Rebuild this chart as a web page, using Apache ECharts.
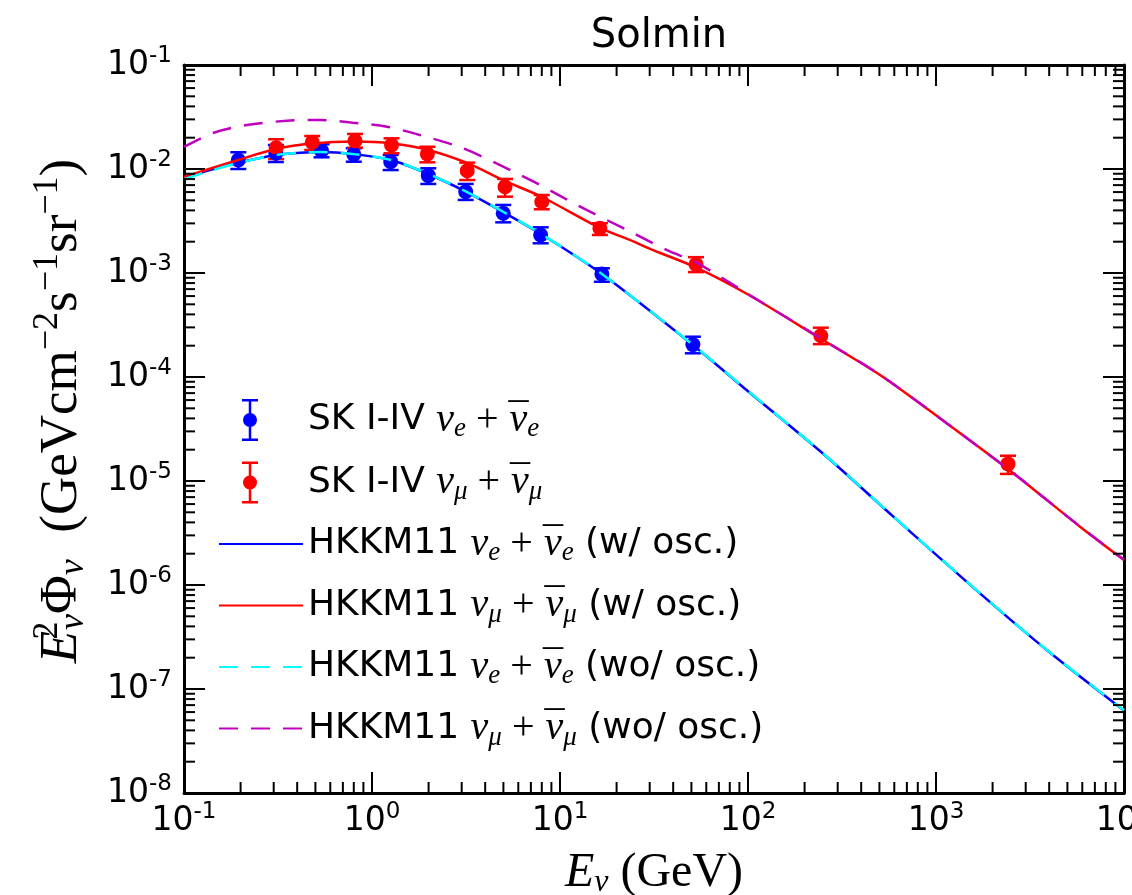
<!DOCTYPE html>
<html>
<head>
<meta charset="utf-8">
<title>Solmin</title>
<script src="https://cdn.jsdelivr.net/npm/echarts@6.0.0/dist/echarts.min.js"></script>
<style>
  html, body { margin: 0; padding: 0; background: #fff; }
  #chart-content { width: 1132px; height: 895px; }
</style>
</head>
<body>
<div id="chart-content"></div>
<script>
// SK I-IV data points (GeV, E^2 Phi)
var skE_x  = [0.1945, 0.308, 0.539, 0.80, 1.257, 1.993, 3.15, 4.99, 7.89, 16.7, 50.9];
var skE_y  = [0.01222, 0.01416, 0.01499, 0.01384, 0.01175, 0.00863, 0.00605, 0.00375, 0.00232, 0.000977, 0.000205];
var skE_lo = [0.0100, 0.01167, 0.01296, 0.01175, 0.00977, 0.00718, 0.00504, 0.00307, 0.00193, 0.000824, 0.000169];
var skE_hi = [0.01449, 0.01702, 0.01729, 0.01581, 0.01365, 0.01016, 0.00718, 0.00451, 0.00275, 0.00111, 0.000244];

var skMu_x  = [0.309, 0.481, 0.812, 1.27, 1.97, 3.21, 5.10, 8.0, 16.3, 52.9, 244, 2415];
var skMu_y  = [0.01603, 0.01807, 0.01871, 0.01702, 0.01393, 0.00963, 0.00676, 0.00485, 0.00269, 0.00121, 0.000249, 0.0000146];
var skMu_lo = [0.01247, 0.01524, 0.01603, 0.01416, 0.01159, 0.00783, 0.00542, 0.0041, 0.00232, 0.00102, 0.000207, 0.0000117];
var skMu_hi = [0.01931, 0.02075, 0.02173, 0.01973, 0.01637, 0.01151, 0.00802, 0.00562, 0.00301, 0.00142, 0.000298, 0.0000175];

// HKKM11 curves
var hkE_x  = [0.1, 0.1375, 0.194, 0.308, 0.414, 0.535, 0.80, 1.26, 1.99, 3.13, 4.98, 7.93, 16.7, 51.6, 100, 262, 593, 1714, 3880, 10000];
var hkE_y  = [0.00819, 0.00977, 0.0115, 0.01365, 0.0143, 0.01455, 0.0139, 0.0122, 0.00895, 0.0061, 0.00386, 0.00237, 0.000977, 0.000199, 0.000073, 0.0000171, 0.00000454, 0.00000083, 0.000000237, 0.000000062];
var hkE0_y = [0.00800, 0.00960, 0.01140, 0.0136, 0.0143, 0.01455, 0.0139, 0.0122, 0.0090, 0.00612, 0.00388, 0.00238, 0.000980, 0.000200, 0.0000735, 0.0000172, 0.00000456, 0.000000835, 0.000000238, 0.0000000625];

var hkMu_x = [0.1, 0.194, 0.308, 0.48, 0.81, 1.28, 1.99, 3.2, 5.09, 8.02, 16.3, 23.5, 31.3, 53.5, 100, 250, 504, 1140, 2576, 5835, 10000];
var hkMu_y = [0.00838, 0.01222, 0.01556, 0.01758, 0.01837, 0.01758, 0.01524, 0.01143, 0.00767, 0.00538, 0.00271, 0.00208, 0.00166, 0.00112, 0.000621, 0.000227, 0.0001045, 0.0000359, 0.0000119, 0.00000364, 0.00000174];

var hkMu0_x = [0.1, 0.1426, 0.216, 0.353, 0.528, 0.792, 1.20, 1.80, 2.94, 4.80, 7.83, 12.8, 22.7, 37.1, 53.5, 100, 250, 504, 1140, 2576, 5835, 10000];
var hkMu0_y = [0.0163, 0.0222, 0.0265, 0.0291, 0.0296, 0.0279, 0.0255, 0.0212, 0.0162, 0.0109, 0.00702, 0.00434, 0.00259, 0.00166, 0.00125, 0.000628, 0.000229, 0.0001048, 0.000036, 0.0000119, 0.00000365, 0.00000175];

// axis ranges (decades)
var xDecades = [-1, 0, 1, 2, 3, 4];
var yDecades = [-8, -7, -6, -5, -4, -3, -2, -1];

var view = {};

view.pairs = function (xs, ys) {
  return xs.map(function (x, i) { return [x, ys[i]]; });
};

view.errData = function (xs, lo, hi) {
  return xs.map(function (x, i) { return [x, lo[i], hi[i]]; });
};

// minor ticks 2..9 in every decade
view.minorTicks = function () {
  var out = [];
  for (var i = 0; i < xDecades.length - 1; i++) {
    for (var m = 2; m <= 9; m++) out.push([m * Math.pow(10, xDecades[i]), 0.1, 0]);
  }
  for (var j = 0; j < yDecades.length - 1; j++) {
    for (var k = 2; k <= 9; k++) out.push([0.1, k * Math.pow(10, yDecades[j]), 1]);
  }
  return out;
};

view.expLabel = function (v) {
  var e = Math.round(Math.log(v) / Math.LN10);
  return '{b|10}{e|' + e + '}';
};

// nu-bar : zero width macron token drawn over nu
view.legendText = {
  SKe:   '{t|SK I-IV }{m|ν}{s|e}{p| + }{o|¯}{m|ν}{s|e}',
  SKmu:  '{t|SK I-IV }{m|ν}{s|μ}{p| + }{o|¯}{m|ν}{s|μ}',
  HKe:   '{t|HKKM11 }{m|ν}{s|e}{p| + }{o|¯}{m|ν}{s|e}{t| (w/ osc.)}',
  HKmu:  '{t|HKKM11 }{m|ν}{s|μ}{p| + }{o|¯}{m|ν}{s|μ}{t| (w/ osc.)}',
  HKe0:  '{t|HKKM11 }{m|ν}{s|e}{p| + }{o|¯}{m|ν}{s|e}{t| (wo/ osc.)}',
  HKmu0: '{t|HKKM11 }{m|ν}{s|μ}{p| + }{o|¯}{m|ν}{s|μ}{t| (wo/ osc.)}'
};

var errIcon = 'path://M0,0h16v2.5h-16z M6.75,0h2.5v42h-2.5z M0,39.5h16v2.5h-16z M1,21a7,7 0 1,1 14,0a7,7 0 1,1 -14,0z M37.99,21h0.01v0.01h-0.01z';

view.loadChart = function () {
  var mychart = echarts.init(document.getElementById('chart-content'));

  var tickLabelRich = {
    b: { fontFamily: 'DejaVu Sans', fontSize: 33, color: '#000' },
    e: { fontFamily: 'DejaVu Sans', fontSize: 23, color: '#000', padding: [0, 0, 18, 0] }
  };
  var frame = { show: true, lineStyle: { color: '#000', width: 3 } };
  var majorTick = { show: true, inside: true, length: 21, lineStyle: { color: '#000', width: 2 } };
  var noSymbol = { opacity: 0 };

  function errItem(color) {
    return function (params, api) {
      var x = api.value(0);
      var top = api.coord([x, api.value(2)]);
      var bot = api.coord([x, api.value(1)]);
      var st = { stroke: color, lineWidth: 2.5 };
      return {
        type: 'group',
        children: [
          { type: 'line', shape: { x1: top[0], y1: top[1], x2: bot[0], y2: bot[1] }, style: st },
          { type: 'line', shape: { x1: top[0] - 8, y1: top[1], x2: top[0] + 8, y2: top[1] }, style: st },
          { type: 'line', shape: { x1: bot[0] - 8, y1: bot[1], x2: bot[0] + 8, y2: bot[1] }, style: st }
        ]
      };
    };
  }

  var serifI = { fontFamily: 'Liberation Serif', fontStyle: 'italic', color: '#000' };
  var serif = { fontFamily: 'Liberation Serif', color: '#000' };

  var option = {
    animation: false,
    title: {
      text: 'Solmin',
      left: 654,
      top: 12,
      textAlign: 'center',
      textStyle: { fontFamily: 'DejaVu Sans', fontSize: 40, fontWeight: 'normal', color: '#000' }
    },
    grid: { left: 184, right: 8, top: 65, bottom: 102, outerBoundsMode: 'none', containLabel: false },
    legend: {
      orient: 'vertical',
      left: 218,
      top: 399,
      padding: 0,
      itemWidth: 84,
      itemHeight: 42,
      itemGap: 19,
      selectedMode: false,
      data: [
        { name: 'SKe', icon: errIcon, itemStyle: { color: '#0000ff' } },
        { name: 'SKmu', icon: errIcon, itemStyle: { color: '#ff0000' } },
        { name: 'HKe', itemStyle: noSymbol },
        { name: 'HKmu', itemStyle: noSymbol },
        { name: 'HKe0', itemStyle: noSymbol },
        { name: 'HKmu0', itemStyle: noSymbol }
      ],
      formatter: function (name) { return view.legendText[name]; },
      textStyle: {
        color: '#000',
        rich: {
          t: { fontFamily: 'DejaVu Sans', fontSize: 36, color: '#000' },
          m: echarts.util.extend({ fontSize: 40 }, serifI),
          o: echarts.util.extend({ fontSize: 40, width: 1, padding: [0, 0, 0, 0] }, serif),
          s: echarts.util.extend({ fontSize: 27, padding: [18, 0, 0, 0] }, serifI),
          p: echarts.util.extend({ fontSize: 40 }, serif)
        }
      }
    },
    xAxis: [{
      type: 'log',
      min: 0.1,
      max: 10000,
      axisLine: frame,
      axisTick: majorTick,
      splitLine: { show: false },
      axisLabel: { margin: 8, formatter: view.expLabel, rich: tickLabelRich },
      name: '{i|E}{s|ν}{r| (GeV)}',
      nameLocation: 'middle',
      nameGap: 54,
      nameTextStyle: {
        rich: {
          i: echarts.util.extend({ fontSize: 48 }, serifI),
          s: echarts.util.extend({ fontSize: 32, padding: [20, 0, 0, 0] }, serifI),
          r: echarts.util.extend({ fontSize: 48 }, serif)
        }
      }
    }, {
      type: 'log',
      position: 'top',
      min: 0.1,
      max: 10000,
      axisLine: frame,
      axisTick: majorTick,
      axisLabel: { show: false },
      splitLine: { show: false }
    }],
    yAxis: [{
      type: 'log',
      min: 1e-8,
      max: 0.1,
      axisLine: frame,
      axisTick: majorTick,
      splitLine: { show: false },
      axisLabel: { margin: 12, formatter: view.expLabel, rich: tickLabelRich },
      name: '{i|E}{u2|2}{s|ν}{r|Φ}{s|ν}{r|  (GeVcm}{u|−2}{r|s}{u|−1}{r|sr}{u|−1}{r|)}',
      nameLocation: 'middle',
      nameGap: 90,
      nameTextStyle: {
        padding: [0, 0, 0, 36],
        rich: {
          i: echarts.util.extend({ fontSize: 53 }, serifI),
          r: echarts.util.extend({ fontSize: 53 }, serif),
          s: echarts.util.extend({ fontSize: 36, padding: [24, 0, 0, 0] }, serifI),
          u: echarts.util.extend({ fontSize: 36, padding: [0, 0, 28, 0] }, serif),
          u2: echarts.util.extend({ fontSize: 36, padding: [0, 0, 28, 0], width: 1 }, serif)
        }
      }
    }, {
      type: 'log',
      position: 'right',
      min: 1e-8,
      max: 0.1,
      axisLine: frame,
      axisTick: majorTick,
      axisLabel: { show: false },
      splitLine: { show: false }
    }],
    series: [
      {
        name: 'HKe', type: 'line', smooth: 0.3, symbol: 'none',
        lineStyle: { color: '#0000ff', width: 2.5 }, itemStyle: { color: '#0000ff' },
        data: view.pairs(hkE_x, hkE_y)
      },
      {
        name: 'HKmu', type: 'line', smooth: 0.3, symbol: 'none',
        lineStyle: { color: '#ff0000', width: 2.5 }, itemStyle: { color: '#ff0000' },
        data: view.pairs(hkMu_x, hkMu_y)
      },
      {
        name: 'HKe0', type: 'line', smooth: 0.3, symbol: 'none',
        lineStyle: { color: '#00ffff', width: 2.5, type: [19, 13] }, itemStyle: { color: '#00ffff' },
        data: view.pairs(hkE_x, hkE0_y)
      },
      {
        name: 'HKmu0', type: 'line', smooth: 0.3, symbol: 'none',
        lineStyle: { color: '#bf00bf', width: 2.5, type: [19, 13] }, itemStyle: { color: '#bf00bf' },
        data: view.pairs(hkMu0_x, hkMu0_y)
      },
      {
        name: 'SKe_err', type: 'custom', silent: true,
        encode: { x: 0, y: [1, 2] },
        renderItem: errItem('#0000ff'),
        data: view.errData(skE_x, skE_lo, skE_hi)
      },
      {
        name: 'SKmu_err', type: 'custom', silent: true,
        encode: { x: 0, y: [1, 2] },
        renderItem: errItem('#ff0000'),
        data: view.errData(skMu_x, skMu_lo, skMu_hi)
      },
      {
        name: 'SKe', type: 'scatter', symbol: 'circle', symbolSize: 15,
        itemStyle: { color: '#0000ff', opacity: 1 },
        data: view.pairs(skE_x, skE_y)
      },
      {
        name: 'SKmu', type: 'scatter', symbol: 'circle', symbolSize: 15,
        itemStyle: { color: '#ff0000', opacity: 1 },
        data: view.pairs(skMu_x, skMu_y)
      },
      {
        name: 'minor', type: 'custom', silent: true, z: 5,
        renderItem: function (params, api) {
          var cs = params.coordSys;
          var p = api.coord([api.value(0), api.value(1)]);
          var st = { stroke: '#000', lineWidth: 2 };
          if (api.value(2) === 0) {
            return { type: 'group', children: [
              { type: 'line', shape: { x1: p[0], y1: cs.y + cs.height, x2: p[0], y2: cs.y + cs.height - 11 }, style: st },
              { type: 'line', shape: { x1: p[0], y1: cs.y, x2: p[0], y2: cs.y + 11 }, style: st }
            ] };
          }
          return { type: 'group', children: [
            { type: 'line', shape: { x1: cs.x, y1: p[1], x2: cs.x + 11, y2: p[1] }, style: st },
            { type: 'line', shape: { x1: cs.x + cs.width, y1: p[1], x2: cs.x + cs.width - 11, y2: p[1] }, style: st }
          ] };
        },
        data: view.minorTicks()
      }
    ]
  };
  mychart.setOption(option);
};

view.loadChart();
</script>
</body>
</html>
